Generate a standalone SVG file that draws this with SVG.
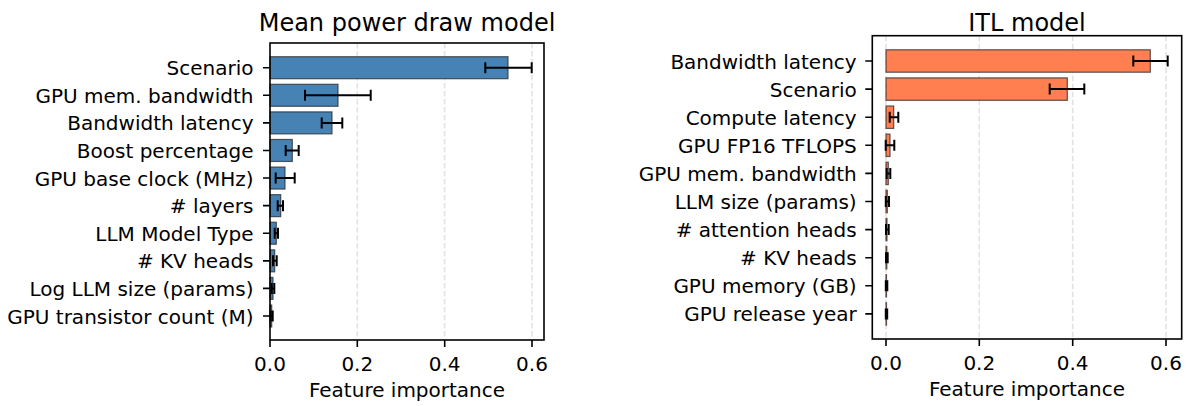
<svg xmlns="http://www.w3.org/2000/svg" width="1192" height="406" viewBox="0 0 1192 406">
  <style>
    text { font-family: "DejaVu Sans", "Liberation Sans", sans-serif; fill: #000; }
    .title { font-size: 24px; text-anchor: middle; }
    .ylab { font-size: 20px; text-anchor: end; }
    .xlab { font-size: 20px; text-anchor: middle; }
    .grid { stroke: #e3e3e3; stroke-width: 1.6; stroke-dasharray: 5.5 2.5; fill: none; }
    .spine { fill: none; stroke: #000; stroke-width: 1.6; }
    .tick { stroke: #000; stroke-width: 1.6; }
    .barB { fill: #4682b4; stroke: #2a2a2a; stroke-opacity: 0.75; stroke-width: 1.2; }
    .barC { fill: #ff7f50; stroke: #2a2a2a; stroke-opacity: 0.75; stroke-width: 1.2; }
    .err { fill: none; stroke: #000; stroke-width: 2; }
  </style>

  <rect x="0" y="0" width="1192" height="406" fill="#ffffff"/>

  <!-- Left panel: mean power draw model -->
  <g id="power-model">
    <text class="title" x="407" y="31">Mean power draw model</text>
    <g id="power-grid">
      <line class="grid" x1="357.3" y1="43" x2="357.3" y2="340"/>
      <line class="grid" x1="444.7" y1="43" x2="444.7" y2="340"/>
      <line class="grid" x1="532" y1="43" x2="532" y2="340"/>
    </g>
    <g id="power-bars">
      <rect class="barB" x="270" y="56.7" width="238" height="22"/>
      <rect class="barB" x="270" y="84.29" width="68" height="22"/>
      <rect class="barB" x="270" y="111.88" width="62" height="22"/>
      <rect class="barB" x="270" y="139.47" width="22.3" height="22"/>
      <rect class="barB" x="270" y="167.06" width="15" height="22"/>
      <rect class="barB" x="270" y="194.65" width="10.7" height="22"/>
      <rect class="barB" x="270" y="222.24" width="6.3" height="22"/>
      <rect class="barB" x="270" y="249.83" width="4.7" height="22"/>
      <rect class="barB" x="270" y="277.42" width="3" height="22"/>
      <rect class="barB" x="270" y="305.01" width="1.7" height="22"/>
    </g>
    <g id="power-errors">
      <path class="err" d="M485.3 67.7H531.7M485.3 62.2V73.2M531.7 62.2V73.2"/>
      <path class="err" d="M305 95.29H370.7M305 89.79V100.79M370.7 89.79V100.79"/>
      <path class="err" d="M321.7 122.88H342.3M321.7 117.38V128.38M342.3 117.38V128.38"/>
      <path class="err" d="M285.7 150.47H298.7M285.7 144.97V155.97M298.7 144.97V155.97"/>
      <path class="err" d="M275.7 178.06H294.7M275.7 172.56V183.56M294.7 172.56V183.56"/>
      <path class="err" d="M277.7 205.65H283M277.7 200.15V211.15M283 200.15V211.15"/>
      <path class="err" d="M274.7 233.24H278M274.7 227.74V238.74M278 227.74V238.74"/>
      <path class="err" d="M273 260.83H276.7M273 255.33V266.33M276.7 255.33V266.33"/>
      <path class="err" d="M271.7 288.42H274.3M271.7 282.92V293.92M274.3 282.92V293.92"/>
      <path class="err" d="M270.5 316.01H272.7M270.5 310.51V321.51M272.7 310.51V321.51"/>
    </g>
    <rect class="spine" x="270" y="43" width="274" height="297"/>
    <g id="power-yticks">
      <path class="tick" d="M263 67.7H270M263 95.29H270M263 122.88H270M263 150.47H270M263 178.06H270M263 205.65H270M263 233.24H270M263 260.83H270M263 288.42H270M263 316.01H270"/>
      <text class="ylab" x="253.5" y="75.2">Scenario</text>
      <text class="ylab" x="253.5" y="102.79">GPU mem. bandwidth</text>
      <text class="ylab" x="253.5" y="130.38">Bandwidth latency</text>
      <text class="ylab" x="253.5" y="157.97">Boost percentage</text>
      <text class="ylab" x="253.5" y="185.56">GPU base clock (MHz)</text>
      <text class="ylab" x="253.5" y="213.15"># layers</text>
      <text class="ylab" x="253.5" y="240.74">LLM Model Type</text>
      <text class="ylab" x="253.5" y="268.33"># KV heads</text>
      <text class="ylab" x="253.5" y="295.92">Log LLM size (params)</text>
      <text class="ylab" x="253.5" y="323.51">GPU transistor count (M)</text>
    </g>
    <g id="power-xticks">
      <path class="tick" d="M270 340V347M357.3 340V347M444.7 340V347M532 340V347"/>
      <text class="xlab" x="270" y="370.5">0.0</text>
      <text class="xlab" x="357.3" y="370.5">0.2</text>
      <text class="xlab" x="444.7" y="370.5">0.4</text>
      <text class="xlab" x="532" y="370.5">0.6</text>
      <text class="xlab" x="407" y="397">Feature importance</text>
    </g>
  </g>

  <!-- Right panel: ITL model -->
  <g id="itl-model">
    <text class="title" x="1027" y="31">ITL model</text>
    <g id="itl-grid">
      <line class="grid" x1="886" y1="35.7" x2="886" y2="339"/>
      <line class="grid" x1="979.3" y1="35.7" x2="979.3" y2="339"/>
      <line class="grid" x1="1072.7" y1="35.7" x2="1072.7" y2="339"/>
      <line class="grid" x1="1166" y1="35.7" x2="1166" y2="339"/>
    </g>
    <g id="itl-bars">
      <rect class="barC" x="886" y="49.8" width="264.3" height="22.4"/>
      <rect class="barC" x="886" y="77.9" width="181.3" height="22.4"/>
      <rect class="barC" x="886" y="106" width="7.7" height="22.4"/>
      <rect class="barC" x="886" y="134.1" width="4" height="22.4"/>
      <rect class="barC" x="886" y="162.2" width="2.3" height="22.4"/>
      <rect class="barC" x="886" y="190.3" width="1.3" height="22.4"/>
      <rect class="barC" x="886" y="218.4" width="1" height="22.4"/>
      <rect class="barC" x="886" y="246.5" width="0.8" height="22.4"/>
      <rect class="barC" x="886" y="274.6" width="0.5" height="22.4"/>
      <rect class="barC" x="886" y="302.7" width="0.5" height="22.4"/>
    </g>
    <g id="itl-errors">
      <path class="err" d="M1133.3 61H1167.7M1133.3 55.5V66.5M1167.7 55.5V66.5"/>
      <path class="err" d="M1049.7 89.1H1084.3M1049.7 83.6V94.6M1084.3 83.6V94.6"/>
      <path class="err" d="M889.7 117.2H898.3M889.7 111.7V122.7M898.3 111.7V122.7"/>
      <path class="err" d="M885.7 145.3H894.3M885.7 139.8V150.8M894.3 139.8V150.8"/>
      <path class="err" d="M886.7 173.4H890.3M886.7 167.9V178.9M890.3 167.9V178.9"/>
      <path class="err" d="M885.8 201.5H889M885.8 196V207M889 196V207"/>
      <path class="err" d="M886 229.6H888.7M886 224.1V235.1M888.7 224.1V235.1"/>
      <path class="err" d="M886 257.7H887.7M886 252.2V263.2M887.7 252.2V263.2"/>
      <path class="err" d="M885.8 285.8H887.3M885.8 280.3V291.3M887.3 280.3V291.3"/>
      <path class="err" d="M885.8 313.9H887.2M885.8 308.4V319.4M887.2 308.4V319.4"/>
    </g>
    <rect class="spine" x="872.3" y="35.7" width="309.4" height="303.3"/>
    <g id="itl-yticks">
      <path class="tick" d="M865.3 61H872.3M865.3 89.1H872.3M865.3 117.2H872.3M865.3 145.3H872.3M865.3 173.4H872.3M865.3 201.5H872.3M865.3 229.6H872.3M865.3 257.7H872.3M865.3 285.8H872.3M865.3 313.9H872.3"/>
      <text class="ylab" x="856.7" y="68.5">Bandwidth latency</text>
      <text class="ylab" x="856.7" y="96.6">Scenario</text>
      <text class="ylab" x="856.7" y="124.7">Compute latency</text>
      <text class="ylab" x="856.7" y="152.8">GPU FP16 TFLOPS</text>
      <text class="ylab" x="856.7" y="180.9">GPU mem. bandwidth</text>
      <text class="ylab" x="856.7" y="209">LLM size (params)</text>
      <text class="ylab" x="856.7" y="237.1"># attention heads</text>
      <text class="ylab" x="856.7" y="265.2"># KV heads</text>
      <text class="ylab" x="856.7" y="293.3">GPU memory (GB)</text>
      <text class="ylab" x="856.7" y="321.4">GPU release year</text>
    </g>
    <g id="itl-xticks">
      <path class="tick" d="M886 339V346M979.3 339V346M1072.7 339V346M1166 339V346"/>
      <text class="xlab" x="886" y="369.5">0.0</text>
      <text class="xlab" x="979.3" y="369.5">0.2</text>
      <text class="xlab" x="1072.7" y="369.5">0.4</text>
      <text class="xlab" x="1166" y="369.5">0.6</text>
      <text class="xlab" x="1027" y="396">Feature importance</text>
    </g>
  </g>
</svg>
